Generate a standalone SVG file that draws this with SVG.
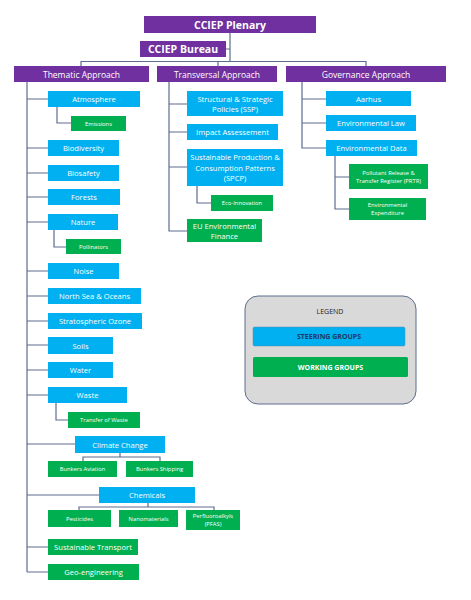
<svg xmlns="http://www.w3.org/2000/svg" width="471" height="600" viewBox="0 0 471 600">
<style>
.p{fill:#7030a0}
.b{fill:#00b0f0}
.g{fill:#00b050}
text{font-family:"Open Sans","Liberation Sans",sans-serif;fill:#fff;text-anchor:middle;dominant-baseline:central}
.t1{font-size:10.5px;font-weight:bold}
.t2{font-size:8.5px}
.t3{font-size:7.6px}
.t4{font-size:5.8px}
#connectors path{fill:none;stroke:#5d6d8e;stroke-width:1.2}
</style>
<rect width="471" height="600" fill="#fff"/>
<g id="connectors">
<path d="M230 33V61.5M226 49H230M81 66V61.5H366V66M218 61.5V66"/>
<path d="M27 82V572M27 99H48M27 148H48M27 173H48M27 197H48M27 222H48M27 271H48M27 296H48M27 321H48M27 345H48M27 370H48M27 395H48M27 444H75M27 495H99M27 547H48M27 572H48"/>
<path d="M57 107V123H71M54 230V247H66M56 403V420H68"/>
<path d="M120 453V457M83 461V457H160V461"/>
<path d="M148 503V507M79 510V507H214V510"/>
<path d="M169 82V231H187M169 104H187M169 132H187M169 167H187M197 186V203H211"/>
<path d="M302 82V148H326M302 99H326M302 123H326M335 156V209H349M335 177H349"/>
</g>
<g id="plenary"><rect class="p" x="144" y="16" width="172" height="17"/><text class="t1" x="230" y="24.5">CCIEP Plenary</text></g>
<g id="bureau"><rect class="p" x="140" y="41" width="86" height="16"/><text class="t1" x="183" y="49">CCIEP Bureau</text></g>
<g id="thematic"><rect class="p" x="14" y="66" width="135" height="16"/><text class="t2" x="81.5" y="74">Thematic Approach</text></g>
<g id="transversal"><rect class="p" x="157" y="66" width="120" height="16"/><text class="t2" x="217" y="74">Transversal Approach</text></g>
<g id="governance"><rect class="p" x="286" y="66" width="160" height="16"/><text class="t2" x="366" y="74">Governance Approach</text></g>

<g id="atmosphere"><rect class="b" x="48" y="91" width="92" height="16"/><text class="t3" x="94" y="99">Atmosphere</text></g>
<g id="emissions"><rect class="g" x="71" y="116" width="55" height="15"/><text class="t4" x="98.5" y="123.5">Emissions</text></g>
<g id="biodiversity"><rect class="b" x="48" y="140" width="71" height="16"/><text class="t3" x="83.5" y="148">Biodiversity</text></g>
<g id="biosafety"><rect class="b" x="48" y="165" width="71" height="16"/><text class="t3" x="83.5" y="173">Biosafety</text></g>
<g id="forests"><rect class="b" x="48" y="189" width="72" height="16"/><text class="t3" x="84" y="197">Forests</text></g>
<g id="nature"><rect class="b" x="48" y="214" width="70" height="16"/><text class="t3" x="83" y="222">Nature</text></g>
<g id="pollinators"><rect class="g" x="66" y="239" width="55" height="15"/><text class="t4" x="93.5" y="246.5">Pollinators</text></g>
<g id="noise"><rect class="b" x="48" y="263" width="71" height="16"/><text class="t3" x="83.5" y="271">Noise</text></g>
<g id="northsea"><rect class="b" x="48" y="288" width="93" height="16"/><text class="t3" x="94.5" y="296">North Sea &amp; Oceans</text></g>
<g id="ozone"><rect class="b" x="48" y="313" width="94" height="16"/><text class="t3" x="95" y="321">Stratospheric Ozone</text></g>
<g id="soils"><rect class="b" x="48" y="337" width="65" height="17"/><text class="t3" x="80.5" y="345.5">Soils</text></g>
<g id="water"><rect class="b" x="48" y="362" width="65" height="16"/><text class="t3" x="80.5" y="370">Water</text></g>
<g id="waste"><rect class="b" x="48" y="387" width="79" height="16"/><text class="t3" x="87.5" y="395">Waste</text></g>
<g id="transferwaste"><rect class="g" x="68" y="412" width="72" height="16"/><text class="t4" x="104" y="420">Transfer of Waste</text></g>
<g id="climate"><rect class="b" x="75" y="436" width="90" height="17"/><text class="t3" x="120" y="444.5">Climate Change</text></g>
<g id="aviation"><rect class="g" x="48" y="461" width="69" height="16"/><text class="t4" x="82.5" y="469">Bunkers Aviation</text></g>
<g id="shipping"><rect class="g" x="126" y="461" width="67" height="16"/><text class="t4" x="159.5" y="469">Bunkers Shipping</text></g>
<g id="chemicals"><rect class="b" x="99" y="487" width="96" height="16"/><text class="t3" x="147" y="495">Chemicals</text></g>
<g id="pesticides"><rect class="g" x="48" y="510" width="63" height="17"/><text class="t4" x="79.5" y="518.5">Pesticides</text></g>
<g id="nanomaterials"><rect class="g" x="119" y="510" width="59" height="17"/><text class="t4" x="148.5" y="518.5">Nanomaterials</text></g>
<g id="pfas"><rect class="g" x="186" y="510" width="54" height="20"/><text class="t4" x="213" y="516">Perfluoroalkyls</text><text class="t4" x="213" y="524">(PFAS)</text></g>
<g id="transport"><rect class="g" x="48" y="539" width="90" height="16"/><text class="t3" x="93" y="547">Sustainable Transport</text></g>
<g id="geo"><rect class="g" x="48" y="564" width="91" height="16"/><text class="t3" x="93.5" y="572">Geo-engineering</text></g>

<g id="ssp"><rect class="b" x="187" y="91" width="96" height="25"/><text class="t3" x="235" y="98.5">Structural &amp; Strategic</text><text class="t3" x="235" y="108.5">Policies (SSP)</text></g>
<g id="impact"><rect class="b" x="187" y="124" width="91" height="16"/><text class="t3" x="232.5" y="132">Impact Assessement</text></g>
<g id="spcp"><rect class="b" x="187" y="149" width="96" height="37"/><text class="t3" x="235" y="157">Sustainable Production &amp;</text><text class="t3" x="235" y="167.5">Consumption Patterns</text><text class="t3" x="235" y="178">(SPCP)</text></g>
<g id="eco"><rect class="g" x="211" y="195" width="62" height="16"/><text class="t4" x="242" y="203">Eco-Innovation</text></g>
<g id="finance"><rect class="g" x="187" y="219" width="75" height="23"/><text class="t3" x="224.5" y="226">EU Environmental</text><text class="t3" x="224.5" y="236">Finance</text></g>

<g id="aarhus"><rect class="b" x="326" y="91" width="85" height="15"/><text class="t3" x="368.5" y="98.5">Aarhus</text></g>
<g id="envlaw"><rect class="b" x="326" y="115" width="90" height="16"/><text class="t3" x="371" y="123">Environmental Law</text></g>
<g id="envdata"><rect class="b" x="326" y="140" width="91" height="16"/><text class="t3" x="371.5" y="148">Environmental Data</text></g>
<g id="prtr"><rect class="g" x="349" y="164" width="79" height="25"/><text class="t4" x="388.5" y="172.5">Pollutant Release &amp;</text><text class="t4" x="388.5" y="180.5">Transfer Register (PRTR)</text></g>
<g id="expenditure"><rect class="g" x="349" y="198" width="77" height="22"/><text class="t4" x="387.5" y="205">Environmental</text><text class="t4" x="387.5" y="213">Expenditure</text></g>

<g id="legend">
<rect x="245" y="296" width="171" height="108" rx="13" fill="#d9d9d9" stroke="#5d6d8e" stroke-width="1"/>
<text x="330" y="311" style="font-size:7px;fill:#222">LEGEND</text>
<rect class="b" x="253" y="327" width="152" height="19" rx="1.5" stroke="#5d8fb0" stroke-width="0.5"/>
<text x="329" y="336.5" style="font-size:7px;font-weight:bold;fill:#1f3864">STEERING GROUPS</text>
<rect class="g" x="253" y="357" width="155" height="20" rx="1.5"/>
<text x="330.5" y="367" style="font-size:7px;font-weight:bold">WORKING GROUPS</text>
</g>
</svg>
